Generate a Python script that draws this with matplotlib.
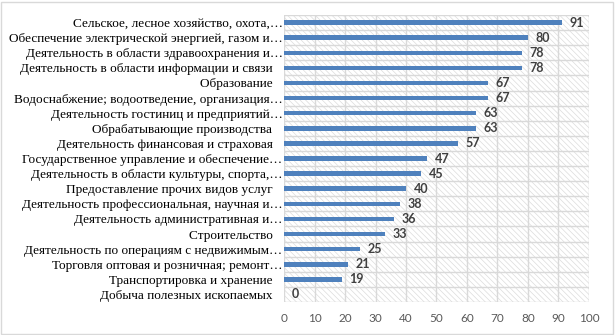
import matplotlib
matplotlib.use("Agg")
import matplotlib.pyplot as plt
from matplotlib.patches import Rectangle
import numpy as np

categories = [
    "Сельское, лесное хозяйство, охота,…",
    "Обеспечение электрической энергией, газом и…",
    "Деятельность в области здравоохранения и…",
    "Деятельность в области информации и связи",
    "Образование",
    "Водоснабжение; водоотведение, организация…",
    "Деятельность гостиниц и предприятий…",
    "Обрабатывающие производства",
    "Деятельность финансовая и страховая",
    "Государственное управление и обеспечение…",
    "Деятельность в области культуры, спорта,…",
    "Предоставление прочих видов услуг",
    "Деятельность профессиональная, научная и…",
    "Деятельность административная и…",
    "Строительство",
    "Деятельность по операциям с недвижимым…",
    "Торговля оптовая и розничная; ремонт…",
    "Транспортировка и хранение",
    "Добыча полезных ископаемых",
]
values = [91, 80, 78, 78, 67, 67, 63, 63, 57, 47, 45, 40, 38, 36, 33, 25, 21, 19, 0]
xticks = list(range(0, 101, 10))

grid_col = "#D9D9D9"
bar_col = "#4F81BD"

fig = plt.figure(figsize=(6.15, 3.35), dpi=100)
ax = fig.add_axes([0.4618, 0.0985, 0.4959, 0.8567])

n = len(categories)
y = np.arange(n)[::-1]

# hatched plot area background
plt.rcParams["hatch.color"] = "#DCDCDC"
plt.rcParams["hatch.linewidth"] = 0.5
ax.add_patch(Rectangle((0, -0.5), 100, n, facecolor="white", edgecolor="#DCDCDC",
                       hatch="\\" * 6, linewidth=0, zorder=0))

# grid lines
for xv in xticks:
    ax.axvline(xv, color=grid_col, lw=1.0, zorder=1)
for yb in np.arange(-0.5, n, 1.0):
    ax.axhline(yb, color=grid_col, lw=1.0, zorder=1)

ax.barh(y, values, height=0.3, color=bar_col, zorder=2)

for yi, v in zip(y, values):
    ax.text(v + 2.5, yi, str(v), va="center", ha="left", fontsize=9,
            fontweight="bold", color="#404040", family="Lato", zorder=3)

labels = []
for c in categories:
    labels.append(c if c.endswith("…") else c + "   ")

ax.set_yticks(y)
ax.set_yticklabels(labels, family="Liberation Serif", fontsize=9.5, color="black")
ax.set_xticks(xticks)
ax.set_xticklabels([str(t) for t in xticks], family="Lato", fontsize=8.5, color="#595959")
ax.tick_params(axis="both", length=0)
ax.tick_params(axis="y", pad=1)
ax.tick_params(axis="x", pad=8)
ax.set_xlim(0, 100)
ax.set_ylim(-0.5, n - 0.5)
for s in ax.spines.values():
    s.set_visible(False)

# outer chart border
fig.patches.append(Rectangle((0.002, 0.004), 0.994, 0.99, transform=fig.transFigure,
                             fill=False, edgecolor="#D9D9D9", lw=1.0))

fig.savefig("out.png", dpi=100)
